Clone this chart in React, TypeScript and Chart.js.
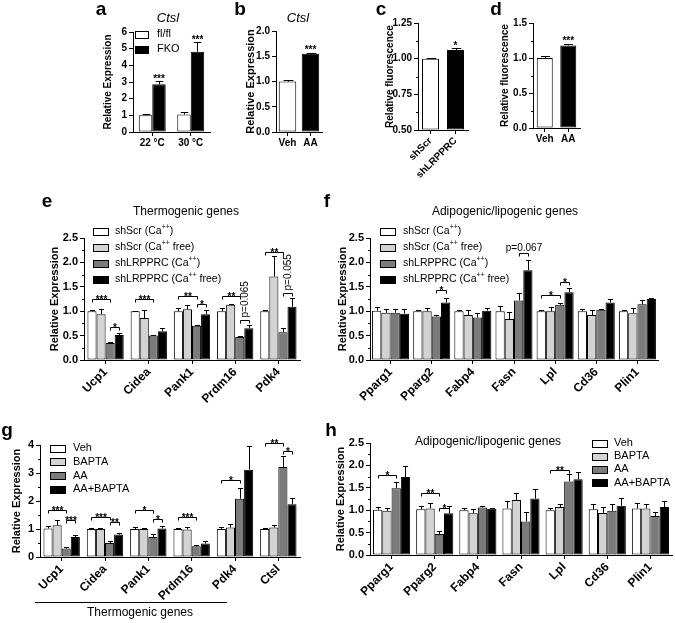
import React, { useEffect, useRef } from 'react';
import { Chart, registerables } from 'chart.js';

Chart.register(...registerables);

const FONT = '"Liberation Sans", Arial, Helvetica, sans-serif';
const CW = 675;
const CH = 623;
const XH = 60;
const WHITE = '#ffffff';
const LGRAY = '#d3d3d3';
const DGRAY = '#7b7b7b';
const BLACK = '#000000';

// ---------- panel a ----------
const aCategories = ['22 °C', '30 °C'];
const aFlfl = [1.0, 1.05];
const aFlflErr = [0.09, 0.17];
const aFko = [2.86, 4.82];
const aFkoErr = [0.18, 0.56];

// ---------- panel b ----------
const bCategories = ['Veh', 'AA'];
const bValues = [1.0, 1.55];
const bErr = [0.03, 0.02];

// ---------- panel c ----------
const cCategories = ['shScr', 'shLRPPRC'];
const cValues = [1.0, 1.06];
const cErr = [0.005, 0.013];

// ---------- panel d ----------
const dCategories = ['Veh', 'AA'];
const dValues = [1.0, 1.18];
const dErr = [0.025, 0.025];

// ---------- panel e ----------
const eGenes = ['Ucp1', 'Cidea', 'Pank1', 'Prdm16', 'Pdk4'];
const eScrCa = [1.0, 1.0, 1.0, 1.0, 1.0];
const eScrCaErr = [0.03, 0.01, 0.06, 0.07, 0.03];
const eScrFree = [0.94, 0.86, 1.04, 1.13, 1.71];
const eScrFreeErr = [0.1, 0.16, 0.08, 0.01, 0.42];
const eLrpCa = [0.35, 0.5, 0.7, 0.47, 0.57];
const eLrpCaErr = [0.01, 0.02, 0.02, 0.02, 0.08];
const eLrpFree = [0.51, 0.59, 0.94, 0.65, 1.09];
const eLrpFreeErr = [0.04, 0.06, 0.08, 0.06, 0.18];

// ---------- panel f ----------
const fGenes = ['Pparg1', 'Pparg2', 'Fabp4', 'Fasn', 'Lpl', 'Cd36', 'Plin1'];
const fScrCa = [1.01, 1.0, 1.0, 1.0, 1.0, 1.0, 1.0];
const fScrCaErr = [0.08, 0.02, 0.02, 0.1, 0.02, 0.05, 0.02];
const fScrFree = [0.97, 1.0, 0.92, 0.84, 1.0, 0.92, 0.96];
const fScrFreeErr = [0.08, 0.07, 0.11, 0.14, 0.09, 0.11, 0.11];
const fLrpCa = [0.97, 0.89, 0.87, 1.22, 1.13, 1.03, 1.14];
const fLrpCaErr = [0.07, 0.03, 0.1, 0.16, 0.03, 0.02, 0.09];
const fLrpFree = [0.95, 1.18, 1.01, 1.84, 1.39, 1.18, 1.25];
const fLrpFreeErr = [0.1, 0.09, 0.06, 0.21, 0.09, 0.06, 0.03];

// ---------- panel g ----------
const gGenes = ['Ucp1', 'Cidea', 'Pank1', 'Prdm16', 'Pdk4', 'Ctsl'];
const gVeh = [1.02, 1.0, 1.0, 1.0, 1.0, 1.0];
const gVehErr = [0.07, 0.02, 0.08, 0.02, 0.06, 0.02];
const gBapta = [1.13, 1.0, 1.0, 0.98, 1.05, 1.05];
const gBaptaErr = [0.18, 0.03, 0.04, 0.08, 0.13, 0.08];
const gAA = [0.3, 0.5, 0.71, 0.38, 2.08, 3.21];
const gAAErr = [0.04, 0.06, 0.11, 0.06, 0.37, 0.38];
const gAABapta = [0.71, 0.8, 1.02, 0.48, 3.12, 1.88];
const gAABaptaErr = [0.06, 0.07, 0.09, 0.1, 0.83, 0.24];

// ---------- panel h ----------
const hGenes = ['Pparg1', 'Pparg2', 'Fabp4', 'Fasn', 'Lpl', 'Cd36', 'Plin1'];
const hVeh = [1.01, 1.02, 1.0, 1.04, 1.0, 1.02, 1.04];
const hVehErr = [0.06, 0.08, 0.04, 0.16, 0.04, 0.11, 0.12];
const hBapta = [0.985, 1.04, 0.93, 1.23, 1.07, 0.94, 1.04];
const hBaptaErr = [0.06, 0.13, 0.09, 0.16, 0.07, 0.13, 0.1];
const hAA = [1.49, 0.47, 1.06, 0.75, 1.64, 0.985, 0.87];
const hAAErr = [0.15, 0.07, 0.04, 0.22, 0.16, 0.15, 0.1];
const hAABapta = [1.74, 0.93, 1.03, 1.26, 1.69, 1.1, 1.07];
const hAABaptaErr = [0.24, 0.16, 0.03, 0.21, 0.17, 0.18, 0.13];

// ---------- significance marks ----------
type Bracket = { group: number; from: number; to: number; level: number; text: string; vertical?: boolean };
const eBrackets: Bracket[] = [
  { group: 0, from: 0, to: 2, level: 1.26, text: '***' },
  { group: 0, from: 2, to: 3, level: 0.68, text: '*' },
  { group: 1, from: 0, to: 2, level: 1.26, text: '***' },
  { group: 2, from: 0, to: 2, level: 1.31, text: '**' },
  { group: 2, from: 2, to: 3, level: 1.15, text: '*' },
  { group: 3, from: 0, to: 2, level: 1.31, text: '**' },
  { group: 3, from: 2, to: 3, level: 0.82, text: 'p=0.065', vertical: true },
  { group: 4, from: 0, to: 2, level: 2.22, text: '**' },
  { group: 4, from: 2, to: 3, level: 1.37, text: 'p=0.055', vertical: true },
];
const fBrackets: Bracket[] = [
  { group: 1, from: 2, to: 3, level: 1.43, text: '*' },
  { group: 3, from: 2, to: 3, level: 2.19, text: 'p=0.067' },
  { group: 4, from: 0, to: 2, level: 1.33, text: '*' },
  { group: 4, from: 2, to: 3, level: 1.6, text: '*' },
];
const gBrackets: Bracket[] = [
  { group: 0, from: 0, to: 2, level: 1.68, text: '***' },
  { group: 0, from: 2, to: 3, level: 1.32, text: '***' },
  { group: 1, from: 0, to: 2, level: 1.44, text: '***' },
  { group: 1, from: 2, to: 3, level: 1.26, text: '**' },
  { group: 2, from: 0, to: 2, level: 1.68, text: '*' },
  { group: 2, from: 2, to: 3, level: 1.35, text: '*' },
  { group: 3, from: 0, to: 2, level: 1.44, text: '***' },
  { group: 4, from: 0, to: 2, level: 2.75, text: '*' },
  { group: 5, from: 0, to: 2, level: 4.08, text: '**' },
  { group: 5, from: 2, to: 3, level: 3.8, text: '*' },
];
const hBrackets: Bracket[] = [
  { group: 0, from: 0, to: 2, level: 1.79, text: '*' },
  { group: 1, from: 0, to: 2, level: 1.39, text: '**' },
  { group: 1, from: 2, to: 3, level: 1.06, text: '*' },
  { group: 4, from: 0, to: 2, level: 1.9, text: '**' },
];

type Part = { t: string; sup?: boolean };
type LegendItem = { color: string; parts: Part[] };
const aLegend: LegendItem[] = [
  { color: WHITE, parts: [{ t: 'fl/fl' }] },
  { color: BLACK, parts: [{ t: 'FKO' }] },
];
const efLegend: LegendItem[] = [
  { color: WHITE, parts: [{ t: 'shScr (Ca' }, { t: '++', sup: true }, { t: ')' }] },
  { color: LGRAY, parts: [{ t: 'shScr (Ca' }, { t: '++', sup: true }, { t: ' free)' }] },
  { color: DGRAY, parts: [{ t: 'shLRPPRC (Ca' }, { t: '++', sup: true }, { t: ')' }] },
  { color: BLACK, parts: [{ t: 'shLRPPRC (Ca' }, { t: '++', sup: true }, { t: ' free)' }] },
];
const ghLegend: LegendItem[] = [
  { color: WHITE, parts: [{ t: 'Veh' }] },
  { color: LGRAY, parts: [{ t: 'BAPTA' }] },
  { color: DGRAY, parts: [{ t: 'AA' }] },
  { color: BLACK, parts: [{ t: 'AA+BAPTA' }] },
];

type DS = { data: number[]; err: number[]; color: string | string[] };
type Spec = {
  area: [number, number, number, number];
  yTitle: string;
  yTitleX: number;
  yTitleSize: number;
  yMin: number;
  yMax: number;
  yStep: number;
  yDec: number;
  minor?: number;
  tickSize: number;
  xTickSize: number;
  rotate: number;
  labels: string[];
  datasets: DS[];
  catPct: number;
  letter: [string, number, number];
  title?: { text: string; x: number; y: number; size: number; italic?: boolean };
  legend?: { x: number; y: number; dy: number; textX: number; size: number; boxW: number; boxH: number; items: LegendItem[] };
  stars?: { ds: number; idx: number; text: string }[];
  brackets?: Bracket[];
  extra?: (ctx: CanvasRenderingContext2D) => void;
};

const four = (a: number[], ae: number[], b: number[], be: number[], c: number[], ce: number[], d: number[], de: number[]): DS[] => [
  { data: a, err: ae, color: WHITE },
  { data: b, err: be, color: LGRAY },
  { data: c, err: ce, color: DGRAY },
  { data: d, err: de, color: BLACK },
];

const SPECS: Spec[] = [
  {
    area: [133, 32, 210, 132], yTitle: 'Relative Expression', yTitleX: 108, yTitleSize: 10,
    yMin: 0, yMax: 6, yStep: 1, yDec: 0, tickSize: 10, xTickSize: 10, rotate: 0,
    labels: aCategories,
    datasets: [{ data: aFlfl, err: aFlflErr, color: WHITE }, { data: aFko, err: aFkoErr, color: BLACK }],
    catPct: 0.7, letter: ['a', 101, 10],
    title: { text: 'Ctsl', x: 168, y: 18, size: 13, italic: true },
    legend: { x: 135, y: 34, dy: 15, textX: 157, size: 11, boxW: 13, boxH: 7, items: aLegend },
    stars: [{ ds: 1, idx: 0, text: '***' }, { ds: 1, idx: 1, text: '***' }],
  },
  {
    area: [276, 31, 322, 132], yTitle: 'Relative Expression', yTitleX: 251, yTitleSize: 11,
    yMin: 0, yMax: 2, yStep: 0.5, yDec: 1, tickSize: 10, xTickSize: 10, rotate: 0,
    labels: bCategories,
    datasets: [{ data: bValues, err: bErr, color: [WHITE, BLACK] }],
    catPct: 0.76, letter: ['b', 240, 10],
    title: { text: 'Ctsl', x: 298, y: 18, size: 13, italic: true },
    stars: [{ ds: 0, idx: 1, text: '***' }],
  },
  {
    area: [418, 23, 468, 130], yTitle: 'Relative fluorescence', yTitleX: 390, yTitleSize: 10,
    yMin: 0.5, yMax: 1.25, yStep: 0.25, yDec: 2, minor: 0.125, tickSize: 10, xTickSize: 10, rotate: 45,
    labels: cCategories,
    datasets: [{ data: cValues, err: cErr, color: [WHITE, BLACK] }],
    catPct: 0.68, letter: ['c', 381, 10],
    stars: [{ ds: 0, idx: 1, text: '*' }],
  },
  {
    area: [533, 23, 580, 128], yTitle: 'Relative fluorescence', yTitleX: 505, yTitleSize: 10,
    yMin: 0, yMax: 1.5, yStep: 0.5, yDec: 1, minor: 0.25, tickSize: 10, xTickSize: 10, rotate: 0,
    labels: dCategories,
    datasets: [{ data: dValues, err: dErr, color: [WHITE, BLACK] }],
    catPct: 0.68, letter: ['d', 496, 10],
    stars: [{ ds: 0, idx: 1, text: '***' }],
  },
  {
    area: [84, 238, 300, 360], yTitle: 'Relative Expression', yTitleX: 55, yTitleSize: 11,
    yMin: 0, yMax: 2.5, yStep: 0.5, yDec: 1, minor: 0.25, tickSize: 11, xTickSize: 12, rotate: 45,
    labels: eGenes,
    datasets: four(eScrCa, eScrCaErr, eScrFree, eScrFreeErr, eLrpCa, eLrpCaErr, eLrpFree, eLrpFreeErr),
    catPct: 0.84, letter: ['e', 47, 202],
    title: { text: 'Thermogenic genes', x: 186, y: 212, size: 12 },
    legend: { x: 93, y: 231, dy: 16, textX: 115, size: 10.5, boxW: 15, boxH: 7, items: efLegend },
    brackets: eBrackets,
  },
  {
    area: [370, 238, 658, 360], yTitle: 'Relative Expression', yTitleX: 343, yTitleSize: 11,
    yMin: 0, yMax: 2.5, yStep: 0.5, yDec: 1, minor: 0.25, tickSize: 11, xTickSize: 12, rotate: 45,
    labels: fGenes,
    datasets: four(fScrCa, fScrCaErr, fScrFree, fScrFreeErr, fLrpCa, fLrpCaErr, fLrpFree, fLrpFreeErr),
    catPct: 0.9, letter: ['f', 327, 202],
    title: { text: 'Adipogenic/lipogenic genes', x: 505, y: 212, size: 12 },
    legend: { x: 380, y: 231, dy: 16, textX: 403, size: 10.5, boxW: 15, boxH: 7, items: efLegend },
    brackets: fBrackets,
  },
  {
    area: [40, 445, 300, 557], yTitle: 'Relative Expression', yTitleX: 17, yTitleSize: 11,
    yMin: 0, yMax: 4, yStep: 1, yDec: 0, minor: 0.5, tickSize: 11, xTickSize: 12, rotate: 45,
    labels: gGenes,
    datasets: four(gVeh, gVehErr, gBapta, gBaptaErr, gAA, gAAErr, gAABapta, gAABaptaErr),
    catPct: 0.84, letter: ['g', 7, 431],
    legend: { x: 50, y: 448, dy: 13.8, textX: 73, size: 11, boxW: 15, boxH: 7, items: ghLegend },
    brackets: gBrackets,
    extra: (ctx) => {
      ctx.strokeStyle = BLACK;
      ctx.lineWidth = 1;
      ctx.beginPath();
      ctx.moveTo(35, 602.5);
      ctx.lineTo(227, 602.5);
      ctx.stroke();
      ctx.fillStyle = BLACK;
      ctx.font = `12px ${FONT}`;
      ctx.textAlign = 'center';
      ctx.textBaseline = 'middle';
      ctx.fillText('Thermogenic genes', 140, 613);
    },
  },
  {
    area: [370, 443, 672, 555], yTitle: 'Relative Expression', yTitleX: 341, yTitleSize: 11,
    yMin: 0, yMax: 2.5, yStep: 0.5, yDec: 1, minor: 0.25, tickSize: 11, xTickSize: 12, rotate: 45,
    labels: hGenes,
    datasets: four(hVeh, hVehErr, hBapta, hBaptaErr, hAA, hAAErr, hAABapta, hAABaptaErr),
    catPct: 0.86, letter: ['h', 331, 431],
    title: { text: 'Adipogenic/lipogenic genes', x: 488, y: 442, size: 12 },
    legend: { x: 592, y: 443, dy: 13.2, textX: 614, size: 11, boxW: 15, boxH: 7, items: ghLegend },
    brackets: hBrackets,
  },
];

function drawRich(ctx: CanvasRenderingContext2D, parts: Part[], x: number, y: number, size: number) {
  let cx = x;
  ctx.textAlign = 'left';
  ctx.textBaseline = 'middle';
  for (const p of parts) {
    if (p.sup) {
      ctx.font = `${Math.round(size * 0.65)}px ${FONT}`;
      ctx.fillText(p.t, cx, y - size * 0.38);
    } else {
      ctx.font = `${size}px ${FONT}`;
      ctx.fillText(p.t, cx, y);
    }
    cx += ctx.measureText(p.t).width;
  }
}

function makeOverlay(spec: Spec) {
  return {
    id: 'overlay',
    afterDatasetsDraw(chart: any) {
      const ctx: CanvasRenderingContext2D = chart.ctx;
      const ys = chart.scales.y;
      ctx.save();
      ctx.strokeStyle = BLACK;
      ctx.lineWidth = 1;
      spec.datasets.forEach((ds, i) => {
        const meta = chart.getDatasetMeta(i);
        ds.err.forEach((e, j) => {
          const bar = meta.data[j];
          if (!bar) return;
          const x = Math.round(bar.x) + 0.5;
          const top = Math.round(ys.getPixelForValue(ds.data[j] + e)) + 0.5;
          const cw = Math.max(2, bar.width * 0.28);
          ctx.beginPath();
          ctx.moveTo(x, bar.y);
          ctx.lineTo(x, top);
          ctx.moveTo(x - cw, top);
          ctx.lineTo(x + cw, top);
          ctx.stroke();
        });
      });
      ctx.restore();
    },
    afterDraw(chart: any) {
      const ctx: CanvasRenderingContext2D = chart.ctx;
      const ys = chart.scales.y;
      const area = chart.chartArea;
      ctx.save();
      ctx.fillStyle = BLACK;
      ctx.strokeStyle = BLACK;
      ctx.lineWidth = 1;

      if (spec.minor) {
        ctx.beginPath();
        for (let v = spec.yMin; v <= spec.yMax + 1e-9; v += spec.minor) {
          const r = v / spec.yStep;
          if (Math.abs(r - Math.round(r)) < 1e-6) continue;
          const py = Math.round(ys.getPixelForValue(v)) + 0.5;
          ctx.moveTo(area.left - 2, py);
          ctx.lineTo(area.left, py);
        }
        ctx.stroke();
      }

      ctx.font = `bold 19px ${FONT}`;
      ctx.textAlign = 'center';
      ctx.textBaseline = 'middle';
      ctx.fillText(spec.letter[0], spec.letter[1], spec.letter[2]);

      if (spec.title) {
        const t = spec.title;
        ctx.font = `${t.italic ? 'italic ' : ''}${t.size}px ${FONT}`;
        ctx.textAlign = 'center';
        ctx.textBaseline = 'middle';
        ctx.fillText(t.text, t.x, t.y);
      }

      if (spec.legend) {
        const L = spec.legend;
        L.items.forEach((it, i) => {
          const cy = L.y + i * L.dy;
          const bx = Math.round(L.x) + 0.5;
          const by = Math.round(cy - L.boxH / 2) + 0.5;
          ctx.fillStyle = it.color;
          ctx.fillRect(bx, by, L.boxW, L.boxH);
          ctx.strokeStyle = BLACK;
          ctx.strokeRect(bx, by, L.boxW, L.boxH);
          ctx.fillStyle = BLACK;
          drawRich(ctx, it.parts, L.textX, cy, L.size);
        });
      }

      if (spec.stars) {
        ctx.font = `bold 10px ${FONT}`;
        ctx.textAlign = 'center';
        ctx.textBaseline = 'alphabetic';
        spec.stars.forEach((s) => {
          const bar = chart.getDatasetMeta(s.ds).data[s.idx];
          const ds = spec.datasets[s.ds];
          const top = ys.getPixelForValue(ds.data[s.idx] + ds.err[s.idx]);
          ctx.fillText(s.text, bar.x, top + 0.5);
        });
      }

      if (spec.brackets) {
        spec.brackets.forEach((b) => {
          const x1 = Math.round(chart.getDatasetMeta(b.from).data[b.group].x) + 0.5;
          const x2 = Math.round(chart.getDatasetMeta(b.to).data[b.group].x) + 0.5;
          const yy = Math.round(ys.getPixelForValue(b.level)) + 0.5;
          ctx.beginPath();
          ctx.moveTo(x1, yy + 3);
          ctx.lineTo(x1, yy);
          ctx.lineTo(x2, yy);
          ctx.lineTo(x2, yy + 3);
          ctx.stroke();
          const xm = (x1 + x2) / 2;
          if (b.vertical) {
            ctx.save();
            ctx.translate(xm, yy - 3);
            ctx.rotate(-Math.PI / 2);
            ctx.font = `10px ${FONT}`;
            ctx.textAlign = 'left';
            ctx.textBaseline = 'middle';
            ctx.fillText(b.text, 0, 0);
            ctx.restore();
          } else if (b.text.startsWith('p')) {
            ctx.font = `10px ${FONT}`;
            ctx.textAlign = 'center';
            ctx.textBaseline = 'alphabetic';
            ctx.fillText(b.text, xm, yy - 3);
          } else {
            ctx.font = `bold 10px ${FONT}`;
            ctx.textAlign = 'center';
            ctx.textBaseline = 'alphabetic';
            ctx.fillText(b.text, xm, yy + 3);
          }
        });
      }

      if (spec.extra) spec.extra(ctx);
      ctx.restore();
    },
  };
}

function zeroPad(s: any) {
  s.paddingLeft = 0;
  s.paddingRight = 0;
  s.paddingTop = 0;
  s.paddingBottom = 0;
}

function buildChart(canvas: HTMLCanvasElement, spec: Spec) {
  const [left, top, right, bottom] = spec.area;
  const boxLeft = spec.yTitleX - spec.yTitleSize * 0.6;
  const yWidth = left - boxLeft;
  return new Chart(canvas, {
    type: 'bar',
    data: {
      labels: spec.labels,
      datasets: spec.datasets.map((d) => ({
        data: d.data,
        backgroundColor: d.color as any,
        borderColor: BLACK,
        borderWidth: 1,
        borderSkipped: false,
        base: spec.yMin,
        categoryPercentage: spec.catPct,
        barPercentage: 1,
      })) as any,
    },
    options: {
      responsive: false,
      animation: false,
      devicePixelRatio: 1,
      events: [],
      layout: {
        autoPadding: false,
        padding: { left: boxLeft, top, right: CW - right, bottom: CH - bottom - XH },
      } as any,
      plugins: { legend: { display: false }, tooltip: { enabled: false }, title: { display: false } },
      scales: {
        x: {
          type: 'category',
          offset: true,
          grid: { offset: false, drawOnChartArea: false, drawTicks: true, tickLength: 4, color: BLACK, lineWidth: 1 },
          border: { display: true, color: BLACK, width: 1 },
          ticks: {
            color: BLACK,
            font: { family: FONT, size: spec.xTickSize, weight: 'bold' },
            autoSkip: false,
            maxRotation: spec.rotate,
            minRotation: spec.rotate,
            padding: 1,
          },
          afterFit: (s: any) => {
            s.height = XH;
            zeroPad(s);
          },
        },
        y: {
          type: 'linear',
          min: spec.yMin,
          max: spec.yMax,
          grid: { drawOnChartArea: false, drawTicks: true, tickLength: 4, color: BLACK, lineWidth: 1 },
          border: { display: true, color: BLACK, width: 1 },
          ticks: {
            stepSize: spec.yStep,
            color: BLACK,
            font: { family: FONT, size: spec.tickSize, weight: 'bold' },
            padding: 2,
            callback: (v: any) => Number(v).toFixed(spec.yDec),
          },
          title: {
            display: true,
            text: spec.yTitle,
            color: BLACK,
            font: { family: FONT, size: spec.yTitleSize, weight: 'bold' },
            padding: 0,
          },
          afterFit: (s: any) => {
            s.width = yWidth;
            zeroPad(s);
          },
        },
      },
    } as any,
    plugins: [makeOverlay(spec) as any],
  });
}

export default function App() {
  const refs = useRef<(HTMLCanvasElement | null)[]>([]);
  useEffect(() => {
    const charts: Chart[] = [];
    SPECS.forEach((spec, i) => {
      const c = refs.current[i];
      if (c) charts.push(buildChart(c, spec));
    });
    return () => charts.forEach((c) => c.destroy());
  }, []);
  return (
    <div style={{ position: 'fixed', left: 0, top: 0, width: CW, height: CH, background: '#ffffff' }}>
      {SPECS.map((_, i) => (
        <canvas
          key={i}
          ref={(el) => {
            refs.current[i] = el;
          }}
          width={CW}
          height={CH}
          style={{ position: 'absolute', left: 0, top: 0, width: CW, height: CH }}
        />
      ))}
    </div>
  );
}
